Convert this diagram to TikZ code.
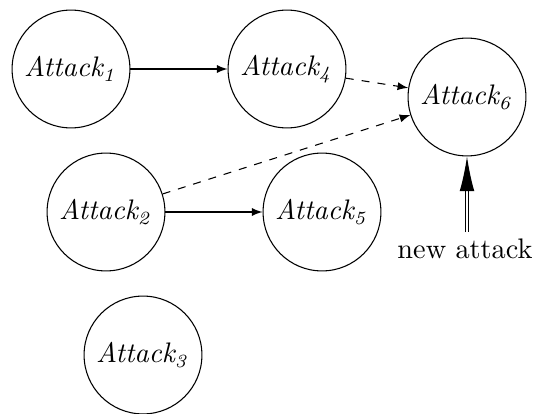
\documentclass[tikz,border=0pt]{standalone}
\usetikzlibrary{arrows.meta}
\begin{document}
\begin{tikzpicture}[x=0.375pt,y=-0.375pt,
  font=\fontsize{10.6pt}{12.7pt}\selectfont,
  att/.style={draw,circle,minimum size=44.2pt,inner sep=1pt,font=\fontsize{10.6pt}{12.7pt}\selectfont\itshape},
  arr/.style={-latex},
  darr/.style={-latex,dashed}]
\useasboundingbox (0,0) rectangle (533,414);
\node[att] (a1) at (71,69) {Attack$_{\mathit{1}}$};
\node[att] (a4) at (287,69) {Attack$_{\mathit{4}}$};
\node[att] (a6) at (467,97) {Attack$_{\mathit{6}}$};
\node[att] (a2) at (106,212) {Attack$_{\mathit{2}}$};
\node[att] (a5) at (322,212) {Attack$_{\mathit{5}}$};
\node[att] (a3) at (143,355) {Attack$_{\mathit{3}}$};
\node (na) at (465,249) {new attack};
\coordinate (nb) at (467,232);
\draw[arr] (a1) -- (a4);
\draw[arr] (a2) -- (a5);
\draw[darr] (a4) -- (a6);
\draw[darr] (a2) -- (a6);
\draw[-{Latex[length=13pt,width=5.5pt]},double,double distance=1pt] (nb) -- (a6.south);
\end{tikzpicture}
\end{document}
